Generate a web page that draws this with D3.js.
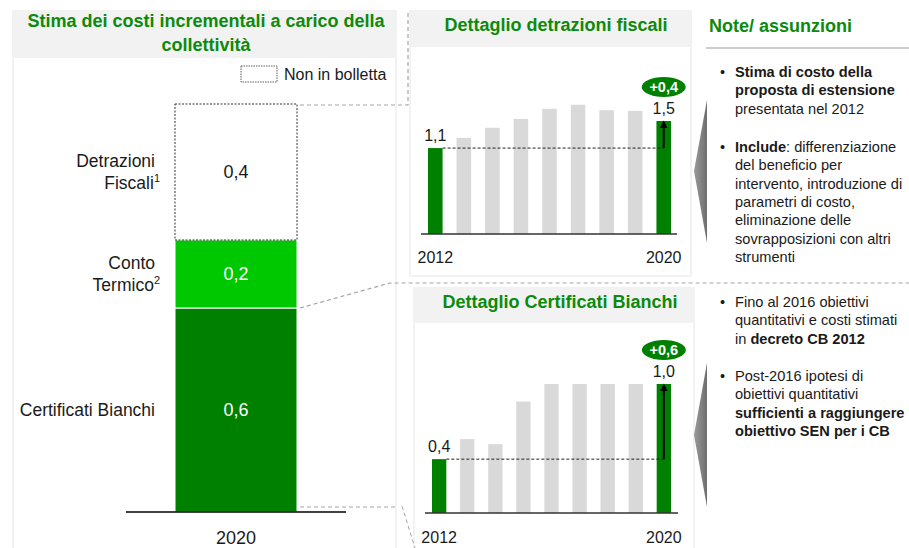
<!DOCTYPE html>
<html>
<head>
<meta charset="utf-8">
<script src="https://cdn.jsdelivr.net/npm/d3@7"></script>
<style>
  html, body { margin: 0; padding: 0; background: #fff; }
  svg { display: block; font-family: "Liberation Sans", Arial, sans-serif; }
</style>
</head>
<body>
<svg id="chart" width="909" height="548"></svg>
<script>
// ---------------- DATA ----------------
const stackCategories = ["Certificati Bianchi", "Conto Termico", "Detrazioni Fiscali"];
const stackValues = [0.6, 0.2, 0.4];
const stackValueLabels = ["0,6", "0,2", "0,4"];
const stackYear = "2020";
const legendLabel = "Non in bolletta";

const years = ["2012", "2013", "2014", "2015", "2016", "2017", "2018", "2019", "2020"];
const detrazioniValues = [1.1, 1.25, 1.4, 1.53, 1.68, 1.74, 1.66, 1.65, 1.5];
const detrazioniLabels = ["1,1", "1,5"];
const detrazioniDelta = "+0,4";
const cbValues = [0.4, 0.56, 0.52, 0.86, 1.0, 1.0, 1.0, 1.0, 1.0];
const cbLabels = ["0,4", "1,0"];
const cbDelta = "+0,6";

const titleLeft = ["Stima dei costi incrementali a carico della", "collettività"];
const titleDetr = "Dettaglio detrazioni fiscali";
const titleCB = "Dettaglio Certificati Bianchi";
const titleNotes = "Note/ assunzioni";

// ---------------- STYLE ----------------
const GREEN_TITLE = "#0b8a0b";
const DARK_GREEN = "#008000";
const LIGHT_GREEN = "#00c800";
const GREY_BAR = "#d9d9d9";
const PANEL_GREY = "#f2f2f2";
const DASH_GREY = "#a6a6a6";

const svg = d3.select("#chart");
const defs = svg.append("defs");

// ---------------- PANELS ----------------
function panel(x0, y0, x1, y1, headerBottom) {
  svg.append("rect").attr("x", x0).attr("y", y0).attr("width", x1 - x0).attr("height", y1 - y0).attr("fill", PANEL_GREY);
  svg.append("rect").attr("x", x0 + 2).attr("y", headerBottom).attr("width", x1 - x0 - 4).attr("height", y1 - headerBottom - 2).attr("fill", "#fff");
}
panel(12, 10, 397, 560, 58);
panel(409, 10, 692, 277, 47);
panel(413, 287, 695, 560, 323);

// titles
const tl = svg.append("text").attr("text-anchor", "middle").attr("fill", GREEN_TITLE)
  .attr("font-weight", "bold").attr("font-size", 18);
tl.selectAll("tspan").data(titleLeft).join("tspan")
  .attr("x", 206).attr("y", (d, i) => 27 + i * 24).text(d => d);
svg.append("text").attr("x", 556).attr("y", 31).attr("text-anchor", "middle").attr("fill", GREEN_TITLE)
  .attr("font-weight", "bold").attr("font-size", 18).text(titleDetr);
svg.append("text").attr("x", 560).attr("y", 308).attr("text-anchor", "middle").attr("fill", GREEN_TITLE)
  .attr("font-weight", "bold").attr("font-size", 18).text(titleCB);

// ---------------- LEFT STACKED BAR ----------------
const yS = d3.scaleLinear().domain([0, d3.sum(stackValues)]).range([512, 104]);
const xS = d3.scaleBand().domain([stackYear]).range([175, 297]).padding(0);
let cum = 0;
const stackData = stackValues.map((v, i) => {
  const d = { cat: stackCategories[i], v, label: stackValueLabels[i], y0: cum, y1: cum + v };
  cum += v; return d;
});
const fills = [DARK_GREEN, LIGHT_GREEN, "#fff"];
const segs = svg.append("g");
segs.selectAll("rect").data(stackData).join("rect")
  .attr("x", xS(stackYear)).attr("width", xS.bandwidth())
  .attr("y", d => yS(d.y1))
  .attr("height", d => yS(d.y0) - yS(d.y1))
  .attr("fill", (d, i) => fills[i])
  .attr("stroke", (d, i) => i === 2 ? "#333" : "#fff")
  .attr("stroke-width", 1)
  .attr("stroke-dasharray", (d, i) => i === 2 ? "2,1.5" : null);
segs.selectAll("text").data(stackData).join("text")
  .attr("x", xS(stackYear) + xS.bandwidth() / 2)
  .attr("y", d => (yS(d.y0) + yS(d.y1)) / 2 + 6)
  .attr("text-anchor", "middle").attr("font-size", 18)
  .attr("fill", (d, i) => i === 2 ? "#1a1a1a" : "#fff")
  .text(d => d.label);

// category labels
const catLines = [
  [["Certificati Bianchi", null]],
  [["Conto", null], ["Termico", "2"]],
  [["Detrazioni", null], ["Fiscali", "1"]]
];
stackData.forEach((d, i) => {
  const lines = catLines[i];
  const cy = (yS(d.y0) + yS(d.y1)) / 2;
  lines.forEach((ln, j) => {
    const yy = cy + 6 + (j - (lines.length - 1) / 2) * 22;
    const t = svg.append("text").attr("x", ln[1] ? 160 : 155).attr("y", yy)
      .attr("text-anchor", "end").attr("font-size", 17.5).attr("fill", "#1a1a1a");
    t.append("tspan").text(ln[0]);
    if (ln[1]) t.append("tspan").attr("font-size", 11).attr("dy", -7).text(ln[1]);
  });
});
// axis baseline
svg.append("line").attr("x1", 126).attr("x2", 346).attr("y1", yS(0)).attr("y2", yS(0))
  .attr("stroke", "#000").attr("stroke-width", 1.5);
svg.append("text").attr("x", xS(stackYear) + xS.bandwidth() / 2).attr("y", 544)
  .attr("text-anchor", "middle").attr("font-size", 18).attr("fill", "#1a1a1a").text(stackYear);

// legend
svg.append("rect").attr("x", 241).attr("y", 66).attr("width", 36).attr("height", 16)
  .attr("fill", "#fff").attr("stroke", "#333").attr("stroke-width", 0.8).attr("stroke-dasharray", "1.5,1");
svg.append("text").attr("x", 284).attr("y", 80).attr("font-size", 16).attr("fill", "#1a1a1a").text(legendLabel);

// ---------------- DETAIL CHARTS ----------------
defs.append("marker").attr("id", "arrowhead")
  .attr("viewBox", "0 0 10 10").attr("refX", 8).attr("refY", 5)
  .attr("markerWidth", 4).attr("markerHeight", 4).attr("orient", "auto")
  .append("path").attr("d", "M0,0 L10,5 L0,10 Z").attr("fill", "#000");

function detailChart(values, labels, delta, xRange, yScale, axisX, yearY) {
  const x = d3.scaleBand().domain(years).range(xRange).paddingInner(0.49).paddingOuter(0);
  const base = yScale.range()[0];
  const g = svg.append("g");
  const last = years.length - 1;
  g.selectAll("rect").data(values).join("rect")
    .attr("x", (d, i) => x(years[i])).attr("width", x.bandwidth())
    .attr("y", d => yScale(d)).attr("height", d => base - yScale(d))
    .attr("fill", (d, i) => (i === 0 || i === last) ? DARK_GREEN : GREY_BAR);
  g.append("line").attr("x1", axisX[0]).attr("x2", axisX[1]).attr("y1", base).attr("y2", base)
    .attr("stroke", "#333").attr("stroke-width", 1.5);
  const xl = x(years[last]) + x.bandwidth() / 2;
  const xf = x(years[0]) + x.bandwidth() / 2;
  // reference dashed line
  g.append("line").attr("x1", x(years[0]) + x.bandwidth()).attr("x2", xl)
    .attr("y1", yScale(values[0])).attr("y2", yScale(values[0]))
    .attr("stroke", "#222").attr("stroke-width", 1).attr("stroke-dasharray", "3,2");
  // arrow
  g.append("line").attr("x1", xl).attr("x2", xl)
    .attr("y1", yScale(values[0])).attr("y2", yScale(values[last]) + 1)
    .attr("stroke", "#000").attr("stroke-width", 2).attr("marker-end", "url(#arrowhead)");
  // value labels
  g.append("text").attr("x", xf).attr("y", yScale(values[0]) - 7).attr("text-anchor", "middle")
    .attr("font-size", 16).attr("fill", "#1a1a1a").text(labels[0]);
  g.append("text").attr("x", xl).attr("y", yScale(values[last]) - 7).attr("text-anchor", "middle")
    .attr("font-size", 16).attr("fill", "#1a1a1a").text(labels[1]);
  // delta bubble
  const by = yScale(values[last]) - 34;
  g.append("ellipse").attr("cx", xl).attr("cy", by).attr("rx", 22).attr("ry", 10).attr("fill", DARK_GREEN);
  g.append("text").attr("x", xl).attr("y", by + 5).attr("text-anchor", "middle")
    .attr("font-size", 14.5).attr("font-weight", "bold").attr("fill", "#fff").text(delta);
  // year labels
  [0, last].forEach(i => {
    g.append("text").attr("x", x(years[i]) + x.bandwidth() / 2).attr("y", yearY)
      .attr("text-anchor", "middle").attr("font-size", 16).attr("fill", "#1a1a1a").text(years[i]);
  });
}
const yD = d3.scaleLinear().domain([-0.17, 1.5]).range([234, 121]);
detailChart(detrazioniValues, detrazioniLabels, detrazioniDelta, [428, 671], yD, [421, 677], 263);
const yC = d3.scaleLinear().domain([-0.03, 1.0]).range([513, 384]);
detailChart(cbValues, cbLabels, cbDelta, [432, 671], yC, [425, 678], 543);

// ---------------- CONNECTORS ----------------
const conn = svg.append("g").attr("fill", "none").attr("stroke", DASH_GREY)
  .attr("stroke-width", 1.2).attr("stroke-dasharray", "4,3");
conn.append("path").attr("d", `M300,${yS(1.2) + 1} H408 V10`);
conn.append("path").attr("d", `M300,${yS(0.6)} L390,283 H909`);
conn.append("path").attr("d", `M300,${yS(0) - 5} H397`);
conn.append("path").attr("d", "M402,506 L415,548").attr("stroke-width", 1);

// ---------------- NOTES ----------------
svg.append("text").attr("x", 709).attr("y", 32).attr("font-size", 18).attr("font-weight", "bold")
  .attr("fill", GREEN_TITLE).text(titleNotes);
svg.append("line").attr("x1", 706).attr("x2", 909).attr("y1", 48).attr("y2", 48)
  .attr("stroke", "#bbb").attr("stroke-width", 1.5);

const notesTop = [
  [[["Stima di costo della", true]], [["proposta di estensione", true]], [["presentata nel 2012", false]]],
  [[["Include", true], [": differenziazione", false]], [["del beneficio per", false]],
   [["intervento, introduzione di", false]], [["parametri di costo,", false]],
   [["eliminazione delle", false]], [["sovrapposizioni con altri", false]], [["strumenti", false]]]
];
const notesBottom = [
  [[["Fino al 2016 obiettivi", false]], [["quantitativi e costi stimati", false]], [["in ", false], ["decreto CB 2012", true]]],
  [[["Post-2016 ipotesi di", false]], [["obiettivi quantitativi", false]],
   [["sufficienti a raggiungere", true]], [["obiettivo SEN per i CB", true]]]
];
function drawNotes(blocks, startYs) {
  blocks.forEach((lines, b) => {
    svg.append("text").attr("x", 720).attr("y", startYs[b] + 5).attr("font-size", 14.5).attr("fill", "#1a1a1a").text("•");
    lines.forEach((parts, j) => {
      const t = svg.append("text").attr("x", 735).attr("y", startYs[b] + 5 + j * 18.3)
        .attr("font-size", 14.6).attr("fill", "#1a1a1a");
      parts.forEach(p => t.append("tspan").attr("font-weight", p[1] ? "bold" : "normal").text(p[0]));
    });
  });
}
drawNotes(notesTop, [72, 147]);
drawNotes(notesBottom, [302, 376]);

// chevrons
const grad = defs.append("linearGradient").attr("id", "chev").attr("x1", 0).attr("x2", 1);
grad.append("stop").attr("offset", 0).attr("stop-color", "#9a9a9a");
grad.append("stop").attr("offset", 1).attr("stop-color", "#6e6e6e");
svg.append("path").attr("d", "M707,100 L694,171 L707,243 Z").attr("fill", "url(#chev)");
svg.append("path").attr("d", "M707,363 L694,435 L707,507 Z").attr("fill", "url(#chev)");
</script>
</body>
</html>
